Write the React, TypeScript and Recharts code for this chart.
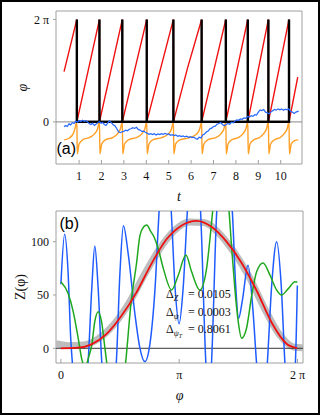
import {
  ComposedChart,
  Line,
  XAxis,
  YAxis,
  ReferenceLine,
  ReferenceArea,
} from "recharts";

const serif = '"Liberation Serif", "Times New Roman", serif';
const sans = '"Liberation Sans", Arial, sans-serif';

// ---- panel (a): phase vs time ----
const tTicks = [1, 2, 3, 4, 5, 6, 7, 8, 9, 10];
const phiTicks = [0, 6.2832];
const phiTickLabels = ["0", "2 π"];

const spikeTimes = [0.9, 1.91, 2.93, 4.02, 5.21, 6.47, 7.55, 8.53, 9.45, 10.37];

const redPhase = [
  [0.33, 3.08], [0.9, 6.283], [0.9, 0], [1.91, 6.283], [1.91, 0], [2.93, 6.283],
  [2.93, 0], [4.02, 6.283], [4.02, 0], [5.21, 6.283], [5.21, 0], [5.84, 3.3],
  [6.47, 6.283], [6.47, 0], [7.55, 6.283], [7.55, 0], [8.53, 6.283], [8.53, 0],
  [9.45, 6.283], [9.45, 0], [10.37, 6.283], [10.37, 0], [10.76, 2.74],
];

const orangeSignal = [
  [0.33, -1.1], [0.55, -1.0], [0.74, -0.72], [0.82, -0.4], [0.88, -0.05], [0.9, 0.05],
  [0.92, -1.96], [1.0, -1.35], [1.18, -1.08], [1.45, -0.96],
  [1.7, -0.72], [1.83, -0.4], [1.89, -0.05], [1.91, 0.05], [1.93, -1.96], [2.01, -1.35], [2.2, -1.08], [2.5, -0.96],
  [2.72, -0.72], [2.85, -0.4], [2.91, -0.05], [2.93, 0.05], [2.95, -1.96], [3.03, -1.35], [3.22, -1.08], [3.55, -0.96],
  [3.81, -0.72], [3.94, -0.4], [4.0, -0.05], [4.02, 0.05], [4.04, -1.96], [4.12, -1.35], [4.31, -1.08], [4.7, -0.96],
  [5.0, -0.72], [5.13, -0.4], [5.19, -0.05], [5.21, 0.05], [5.23, -1.96], [5.31, -1.35], [5.5, -1.1], [5.9, -0.98],
  [6.26, -0.72], [6.39, -0.4], [6.45, -0.05], [6.47, 0.05], [6.49, -1.96], [6.57, -1.35], [6.76, -1.08], [7.1, -0.96],
  [7.34, -0.72], [7.47, -0.4], [7.53, -0.05], [7.55, 0.05], [7.57, -1.96], [7.65, -1.35], [7.84, -1.08], [8.1, -0.96],
  [8.32, -0.72], [8.45, -0.4], [8.51, -0.05], [8.53, 0.05], [8.55, -1.96], [8.63, -1.35], [8.82, -1.08], [9.05, -0.96],
  [9.24, -0.72], [9.37, -0.4], [9.43, -0.05], [9.45, 0.05], [9.47, -1.96], [9.55, -1.35], [9.74, -1.08], [9.97, -0.96],
  [10.16, -0.72], [10.29, -0.4], [10.35, -0.05], [10.37, 0.05], [10.39, -1.96], [10.47, -1.35], [10.62, -1.15], [10.78, -1.1],
];

const bluePhase = [
  [0.33, -0.3], [0.4, -0.22], [0.47, -0.28], [0.55, -0.12], [0.62, -0.18], [0.7, -0.05], [0.78, -0.1],
  [0.85, 0.05], [0.93, -0.02], [1.0, 0.08], [1.08, 0.02], [1.15, 0.1], [1.23, 0.04], [1.3, 0.08],
  [1.38, 0.0], [1.45, -0.1], [1.53, -0.16], [1.6, -0.08], [1.68, -0.22], [1.75, -0.14], [1.83, -0.06],
  [1.9, 0.02], [1.98, -0.08], [2.05, -0.04], [2.13, -0.16], [2.2, -0.22], [2.28, -0.06], [2.36, 0.06],
  [2.44, -0.04], [2.52, -0.18], [2.6, -0.24], [2.68, -0.4], [2.76, -0.6], [2.84, -0.66], [2.92, -0.6],
  [3.0, -0.58], [3.08, -0.5], [3.16, -0.54], [3.24, -0.45], [3.32, -0.42], [3.4, -0.35], [3.48, -0.4],
  [3.56, -0.33], [3.64, -0.46], [3.72, -0.5], [3.8, -0.58], [3.88, -0.56], [3.96, -0.64], [4.04, -0.7],
  [4.12, -0.76], [4.2, -0.72], [4.28, -0.78], [4.36, -0.72], [4.44, -0.8], [4.52, -0.74], [4.6, -0.78],
  [4.68, -0.72], [4.76, -0.76], [4.84, -0.7], [4.92, -0.76], [5.0, -0.74], [5.08, -0.82], [5.16, -0.78],
  [5.24, -0.84], [5.32, -0.8], [5.4, -0.88], [5.48, -0.84], [5.56, -0.9], [5.64, -0.86], [5.72, -0.92],
  [5.8, -0.88], [5.88, -0.94], [5.96, -0.9], [6.04, -0.96], [6.12, -0.94], [6.2, -1.02], [6.28, -1.06],
  [6.36, -0.94], [6.44, -0.98], [6.52, -0.8], [6.6, -0.74], [6.68, -0.62], [6.76, -0.56], [6.84, -0.42],
  [6.92, -0.38], [7.0, -0.28], [7.08, -0.26], [7.16, -0.14], [7.24, -0.1], [7.32, -0.04], [7.4, -0.16],
  [7.48, -0.24], [7.56, -0.16], [7.64, -0.1], [7.72, -0.14], [7.8, -0.02], [7.88, -0.06], [7.96, 0.06],
  [8.04, 0.12], [8.12, 0.1], [8.2, 0.18], [8.28, 0.16], [8.36, 0.24], [8.44, 0.22], [8.52, 0.34],
  [8.6, 0.3], [8.68, 0.38], [8.76, 0.34], [8.84, 0.44], [8.92, 0.42], [9.0, 0.6], [9.08, 0.74],
  [9.16, 0.7], [9.24, 0.76], [9.32, 0.6], [9.4, 0.56], [9.48, 0.5], [9.56, 0.6], [9.64, 0.68],
  [9.72, 0.76], [9.8, 0.72], [9.88, 0.8], [9.96, 0.74], [10.04, 0.8], [10.12, 0.72], [10.2, 0.78],
  [10.28, 0.74], [10.36, 0.8], [10.44, 0.64], [10.52, 0.6], [10.6, 0.52], [10.68, 0.6], [10.8, 0.66],
];

// ---- panel (b): phase response curves ----
const angleTicks = [0, 3.1416, 6.2832];
const angleTickLabels = ["0", "π", "2 π"];
const zTicks = [0, 50, 100];

const trueZ = [
  [-0.08, 4], [0.2, 2.5], [0.6, 3], [1.0, 9], [1.4, 22], [1.8, 42], [2.2, 68], [2.6, 92],
  [3.0, 110], [3.4, 118.5], [3.8, 118], [4.2, 108], [4.6, 90], [5.0, 67], [5.4, 38],
  [5.8, 13], [6.2, 1], [6.4, 0.5],
];

const redZ = [
  [0, 0], [0.4, 0.3], [0.8, 3.5], [1.2, 13], [1.6, 30], [2.0, 52], [2.4, 79], [2.8, 102],
  [3.2, 115], [3.6, 119.5], [4.0, 114], [4.4, 100], [4.8, 80], [5.2, 54], [5.6, 24],
  [6.0, 4], [6.28, 0],
];

const greenZ = [
  [0, 62.5], [0.19, 51.6], [0.33, 34], [0.46, 9.4], [0.55, -9.4], [0.64, -18], [0.74, -8],
  [0.82, 3], [0.9, 25], [0.99, 34.3], [1.08, 25], [1.17, 0], [1.26, -25], [1.45, -60],
  [1.7, -20], [1.87, 45], [2.01, 80], [2.1, 106], [2.2, 114], [2.28, 115.7], [2.38, 110],
  [2.48, 104], [2.58, 94], [2.72, 75], [2.94, 54.7], [3.12, 68.8], [3.32, 87.5], [3.47, 72],
  [3.69, 54.7], [3.87, 75], [3.96, 103], [4.05, 135], [4.25, 170], [4.45, 135], [4.53, 97],
  [4.62, 56], [4.71, 25], [4.8, 9.4], [4.93, 18.8], [5.07, 50], [5.2, 72], [5.37, 80],
  [5.55, 68.8], [5.73, 54.7], [5.86, 50], [6.04, 56], [6.22, 62.5], [6.28, 62],
];

const blueZ = [
  [0, 60], [0.1, 107], [0.19, 72], [0.26, 10], [0.32, -20], [0.52, -60], [0.71, -20],
  [0.82, 56], [0.9, 96], [0.99, 56], [1.1, -20], [1.29, -55], [1.46, -20], [1.57, 72],
  [1.66, 115], [1.79, 88], [1.97, 31], [2.1, 0], [2.23, -12.5], [2.36, 3], [2.5, 56],
  [2.62, 135], [2.77, 180], [2.92, 135], [3.03, 58], [3.14, 23], [3.25, 58], [3.37, 135],
  [3.54, 180], [3.7, 135], [3.86, -20], [3.92, -40], [3.99, -20], [4.15, 135], [4.35, 180],
  [4.55, 130], [4.64, 60], [4.72, 28], [4.82, 45], [4.97, 78], [5.1, 36], [5.21, -20],
  [5.34, -55], [5.47, -20], [5.6, 60], [5.73, 100], [5.85, 60], [5.96, -20], [6.09, -55],
  [6.22, -20], [6.28, 59],
];

const deltaSubs = ["Z", "ψ", "ψ"];
const deltaSubSubs = ["", "", "T"];
const deltaValues = ["0.0105", "0.0003", "0.8061"];

const pts = (arr: number[][]) => arr.map(([x, y]) => ({ x, y }));

// each spike: a vertical bar from 0 up to 2π and back
const blackMarks = spikeTimes.flatMap((t) => [
  { x: t, y: 0 },
  { x: t, y: 6.283 },
  { x: t, y: 0 },
]);

const tickStyle = { fontSize: 12, fill: "#111", fontFamily: serif, style: { fontFamily: serif } };
const frame = "#a0a0a0";

function PanelA() {
  const xd: [number, number] = [-0.03, 10.95];
  const yd: [number, number] = [-2.58, 6.8];
  return (
    <ComposedChart width={320} height={205} margin={{ top: 11, right: 18, bottom: 0, left: 0 }} style={{ fontFamily: serif }}>
      <XAxis
        type="number"
        dataKey="x"
        domain={xd}
        allowDataOverflow
        ticks={tTicks}
        interval={0}
        height={41}
        axisLine={false}
        tickSize={-4}
        tickMargin={11}
        tickLine={{ stroke: frame }}
        tick={tickStyle}
        label={{ value: "t", position: "insideBottom", offset: 4, fontSize: 14, fontStyle: "italic", fontFamily: serif, fill: "#111" }}
      />
      <YAxis
        type="number"
        dataKey="y"
        domain={yd}
        allowDataOverflow
        ticks={phiTicks}
        interval={0}
        tickFormatter={(_v: number, i: number) => phiTickLabels[i]}
        width={56}
        axisLine={false}
        tickSize={3}
        tickMargin={4}
        tickLine={{ stroke: frame }}
        tick={tickStyle}
        label={{ value: "φ", angle: -90, position: "insideLeft", offset: 22, fontSize: 14, fontStyle: "italic", fontFamily: serif, fill: "#111", style: { textAnchor: "middle" } }}
      />
      <ReferenceArea x1={xd[0]} x2={xd[1]} y1={yd[0]} y2={yd[1]} fill="none" stroke={frame} strokeWidth={1} />
      <ReferenceLine y={0} stroke="#888" strokeWidth={1} />
      <Line data={pts(redPhase)} dataKey="y" type="linear" stroke="#f01010" strokeWidth={1.4} dot={false} activeDot={false} isAnimationActive={false} />
      <Line data={pts(orangeSignal)} dataKey="y" type="monotone" stroke="#ffa027" strokeWidth={1.4} dot={false} activeDot={false} isAnimationActive={false} />
      <Line data={blackMarks} dataKey="y" type="linear" stroke="#000" strokeWidth={2.4} dot={false} activeDot={false} isAnimationActive={false} />
      <Line data={[{ x: spikeTimes[0], y: 0 }, { x: spikeTimes[spikeTimes.length - 1], y: 0 }]} dataKey="y" type="linear" stroke="#000" strokeWidth={2.4} dot={false} activeDot={false} isAnimationActive={false} />
      <Line data={pts(bluePhase)} dataKey="y" type="linear" stroke="#2466ff" strokeWidth={1.2} dot={false} activeDot={false} isAnimationActive={false} />
    </ComposedChart>
  );
}

function PanelB() {
  const xd: [number, number] = [-0.13, 6.43];
  const yd: [number, number] = [-13.8, 128.8];
  return (
    <ComposedChart width={320} height={218} margin={{ top: 11, right: 17, bottom: 0, left: 0 }} style={{ fontFamily: serif }}>
      <XAxis
        type="number"
        dataKey="x"
        domain={xd}
        allowDataOverflow
        ticks={angleTicks}
        interval={0}
        tickFormatter={(_v: number, i: number) => angleTickLabels[i]}
        height={55}
        axisLine={false}
        tickSize={-4}
        tickMargin={11}
        tickLine={{ stroke: frame }}
        tick={tickStyle}
        label={{ value: "φ", position: "insideBottom", offset: 18, fontSize: 14, fontStyle: "italic", fontFamily: serif, fill: "#111" }}
      />
      <YAxis
        type="number"
        dataKey="y"
        domain={yd}
        allowDataOverflow
        ticks={zTicks}
        interval={0}
        width={56}
        axisLine={false}
        tickSize={3}
        tickMargin={4}
        tickLine={{ stroke: frame }}
        tick={tickStyle}
        label={{ value: "Z(φ)", angle: -90, position: "insideLeft", offset: 20, fontSize: 14, fontFamily: serif, fill: "#111", style: { textAnchor: "middle" } }}
      />
      <ReferenceArea x1={xd[0]} x2={xd[1]} y1={yd[0]} y2={yd[1]} fill="none" stroke={frame} strokeWidth={1} />
      <Line data={pts(trueZ)} dataKey="y" type="monotone" stroke="#bdbdbd" strokeWidth={7} strokeLinecap="round" dot={false} activeDot={false} isAnimationActive={false} />
      <ReferenceLine y={0} stroke="#333" strokeWidth={1} />
      <Line data={pts(blueZ)} dataKey="y" type="monotone" stroke="#1f5cff" strokeWidth={1.5} dot={false} activeDot={false} isAnimationActive={false} />
      <Line data={pts(greenZ)} dataKey="y" type="monotone" stroke="#1fa81f" strokeWidth={1.5} dot={false} activeDot={false} isAnimationActive={false} />
      <Line data={pts(redZ)} dataKey="y" type="monotone" stroke="#f01010" strokeWidth={1.8} dot={false} activeDot={false} isAnimationActive={false} />
    </ComposedChart>
  );
}

export default function App() {
  return (
    <div style={{ position: "absolute", left: 0, top: 0, width: 324, height: 418, background: "#fff", fontFamily: serif }}>
      <div style={{ position: "absolute", left: 0, top: 0 }}>
        <PanelA />
      </div>
      <div style={{ position: "absolute", left: 0, top: 200 }}>
        <PanelB />
      </div>
      <div style={{ position: "absolute", left: 56.5, top: 139, fontFamily: sans, fontSize: 16, lineHeight: "20px", color: "#000" }}>(a)</div>
      <div style={{ position: "absolute", left: 59.5, top: 214, fontFamily: sans, fontSize: 16, lineHeight: "20px", color: "#000" }}>(b)</div>
      {deltaValues.map((v, i) => (
        <div key={i} style={{ position: "absolute", left: 166, top: 288 + i * 17.5, fontSize: 12, lineHeight: "12px", color: "#111", whiteSpace: "nowrap" }}>
          <span>Δ</span>
          <span style={{ position: "relative", top: 3, fontSize: 8, fontStyle: "italic" }}>{deltaSubs[i]}</span>
          {deltaSubSubs[i] && (
            <span style={{ position: "relative", top: 5, fontSize: 6, fontStyle: "italic" }}>{deltaSubSubs[i]}</span>
          )}
          <span style={{ position: "absolute", left: 22 }}>=&nbsp;{v}</span>
        </div>
      ))}
      <div style={{ position: "absolute", left: 0, top: 0, width: 320, height: 415, border: "2px solid #000", boxSizing: "border-box" }} />
    </div>
  );
}
